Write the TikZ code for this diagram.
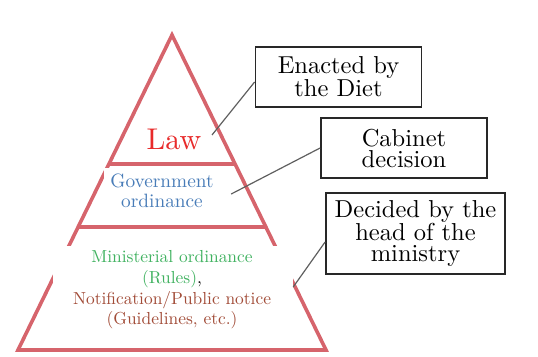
\documentclass[tikz,border=0pt]{standalone}
\usepackage{fontspec}
% one design size of Latin Modern at every size, for its wider letters
\setmainfont{lmroman10-regular.otf}[BoldFont=lmroman10-bold.otf,
  ItalicFont=lmroman10-italic.otf]
\definecolor{trired}{RGB}{214,100,108}
\definecolor{lawred}{RGB}{232,42,42}
\definecolor{govblue}{RGB}{72,124,184}
\definecolor{mingreen}{RGB}{64,178,96}
\definecolor{noticebrown}{RGB}{162,76,56}
\definecolor{leadgray}{RGB}{95,95,95}
\definecolor{boxgray}{RGB}{40,40,40}
\begin{document}
\begin{tikzpicture}[x=1pt,y=-1pt,
  tri/.style={draw=trired, line width=3.6pt, line join=miter},
  bar/.style={draw=trired, line width=4pt},
  cover/.style={fill=white, inner sep=0pt},
  lead/.style={draw=leadgray, line width=1.2pt},
  note/.style={draw=boxgray, line width=1.8pt, fill=white, align=center,
    inner sep=0pt, font=\fontsize{24.5}{21}\selectfont},
  tier/.style={align=center, inner sep=0pt}
]
\useasboundingbox (0,0) rectangle (538,356);

% pyramid outline and tier dividers
\draw[tri] (172,35) -- (326,350) -- (18,350) -- cycle;
\draw[bar] (110,164) -- (234,164);
\draw[bar] (79,227) -- (265,227);

% white panels behind the tier labels
\node[cover, minimum width=64pt, minimum height=30pt] (lawbg) at (170,138) {};
\node[cover, minimum width=127pt, minimum height=48pt] (govbg) at (167.5,192) {};
\node[cover, minimum width=240pt, minimum height=101pt] (minbg) at (173,296.5) {};

% tier labels
\node[tier, text=lawred, font=\fontsize{30}{32}\selectfont] (law) at (174,139.8) {Law};
\node[tier, text=govblue, font=\fontsize{19.3}{20}\selectfont] (gov) at (162,190.4)
  {Government\\ordinance};
\node[tier, font=\fontsize{17.4}{20.7}\selectfont] (min) at (172,290)
  {\textcolor{mingreen}{Ministerial ordinance}\\
   \textcolor{mingreen}{(Rules)},\\
   \textcolor{noticebrown}{Notification/Public notice}\\
   \textcolor{noticebrown}{(Guidelines, etc.)}};

% explanatory boxes
\node[note, minimum width=166pt, minimum height=60pt] (diet) at (338.5,77)
  {Enacted by\\the Diet};
\node[note, minimum width=166pt, minimum height=60pt] (cabinet) at (404,148)
  {Cabinet\\decision};
\node[note, minimum width=179pt, minimum height=81pt] (head) at (415.5,233.5)
  {Decided by the\\head of the\\ministry};

% leader lines
\coordinate (lawtip) at (212,135);
\draw[lead] (lawtip) -- ([yshift=-5pt]diet.west);
\draw[lead] ([yshift=-2pt]govbg.east) -- (cabinet.west);
\draw[lead] ([yshift=9.5pt]minbg.east) -- ([yshift=-8.5pt]head.west);
\end{tikzpicture}
\end{document}
